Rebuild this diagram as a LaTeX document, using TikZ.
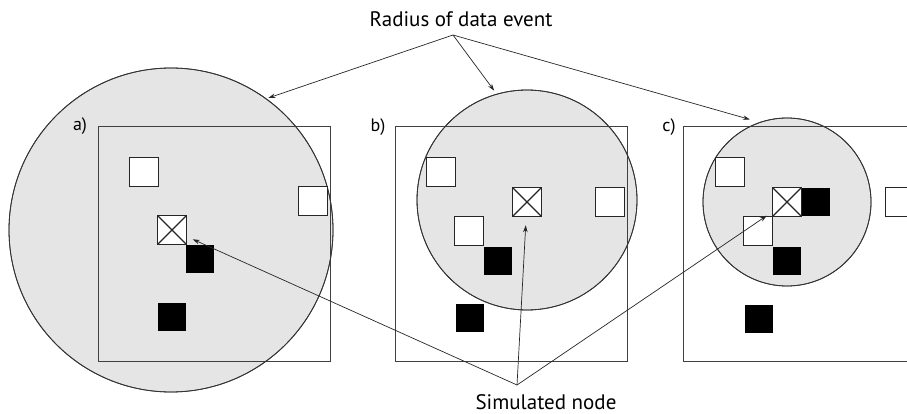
\documentclass[tikz,border=0pt]{standalone}
\usepackage{fontspec}
\setmainfont{PT Sans}
\usetikzlibrary{arrows.meta}
\begin{document}
\begin{tikzpicture}[x=1pt,y=-1pt,
  frame/.style={draw=black!75,line width=0.9pt},
  zone/.style={circle,draw=black!80,fill=black!10,line width=0.8pt,inner sep=0pt},
  empty/.style={draw=black!85,fill=white,line width=1.5pt,minimum size=29pt,inner sep=0pt},
  full/.style={fill=black,minimum size=28pt,inner sep=0pt},
  sim/.style={empty,path picture={\draw[line width=1.3pt]
      (path picture bounding box.north west) -- (path picture bounding box.south east)
      (path picture bounding box.north east) -- (path picture bounding box.south west);}},
  pointer/.style={draw=black!85,line width=0.7pt,-{Stealth[length=7pt,width=4.5pt]}},
  lbl/.style={font=\fontsize{21}{24}\selectfont,inner sep=0pt},
  tag/.style={font=\fontsize{18}{21}\selectfont,inner sep=0pt}
]
\useasboundingbox (0,0) rectangle (907,414);
\clip (0,0) rectangle (907,414);

% search neighbourhoods
\node[zone,minimum size=324pt] (ca) at (171,230) {};
\node[zone,minimum size=220pt] (cb) at (527,200) {};
\node[zone,minimum size=168pt] (cc) at (787,202) {};

% simulation grids
\draw[frame] (98,126) rectangle (330,361);
\draw[frame] (395,126) rectangle (627,361);
\draw[frame] (683,126) rectangle (915,361);

% circle outlines again, on top of the grid frames
\draw[draw=black!80,line width=0.8pt] (171,230) circle[radius=162pt];
\draw[draw=black!80,line width=0.8pt] (527,200) circle[radius=110pt];
\draw[draw=black!80,line width=0.8pt] (787,202) circle[radius=84pt];

% panel labels
\node[tag] (la) at (80,126) {a)};
\node[tag] (lb) at (378,127) {b)};
\node[tag] (lc) at (669,127) {c)};

% panel a
\node[empty] (a1) at (144,172) {};
\node[empty] (a2) at (313,201) {};
\node[sim]   (xa) at (172,230) {};
\node[full]  (a3) at (200,259) {};
\node[full]  (a4) at (172,317) {};

% panel b
\node[empty] (b1) at (441,172) {};
\node[sim]   (xb) at (527,202) {};
\node[empty] (b2) at (610,202) {};
\node[empty] (b3) at (469,231) {};
\node[full]  (b4) at (498,261) {};
\node[full]  (b5) at (470,318) {};

% panel c
\node[empty] (c1) at (730,172) {};
\node[sim]   (xc) at (787,202) {};
\node[full]  (c2) at (816,202) {};
\node[empty] (c3) at (900,202) {};
\node[empty] (c4) at (758,231) {};
\node[full]  (c5) at (787,261) {};
\node[full]  (c6) at (759,319) {};

% annotations
\node[lbl] (rad) at (461,19) {Radius of data event};
\coordinate (radtip) at (453,35);
\node[lbl] (simn) at (546,402) {Simulated node};
\coordinate (simtip) at (517,385);

\draw[pointer,shorten >=2pt] (radtip) -- (ca.54);
\draw[pointer,shorten >=4pt] (radtip) -- (cb.106);
\draw[pointer,shorten >=10pt] (radtip) -- (cc.109);

\draw[pointer,shorten >=6pt] (simtip) -- (xa);
\draw[pointer,shorten >=8pt] (simtip) -- (xb);
\draw[pointer,shorten >=6pt] (simtip) -- (xc);
\end{tikzpicture}
\end{document}
